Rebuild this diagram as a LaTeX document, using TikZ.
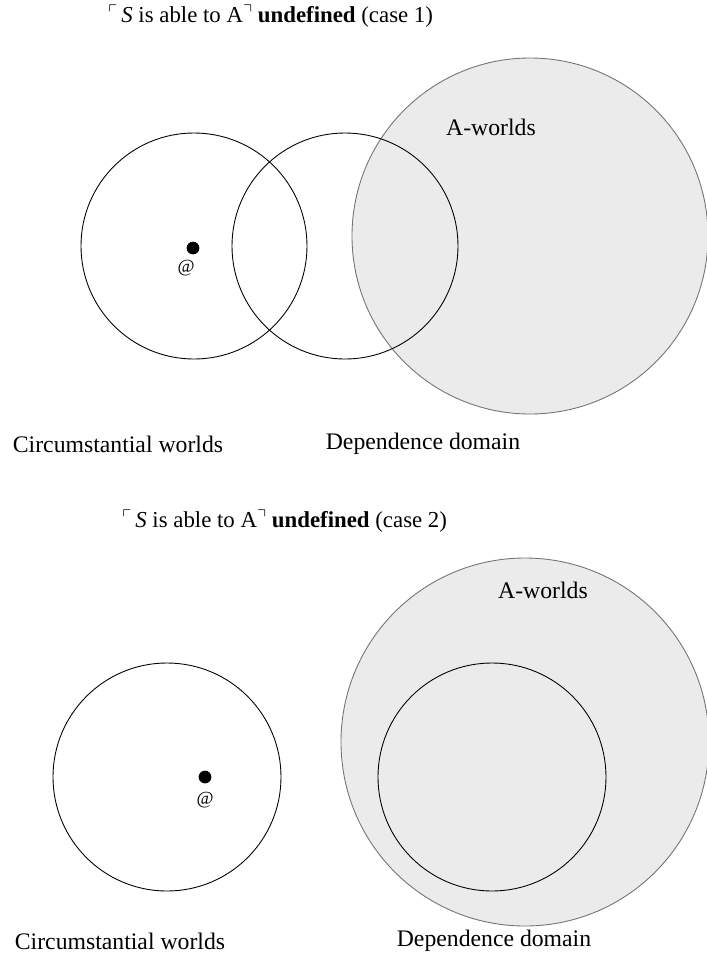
\documentclass[tikz,border=0pt]{standalone}
\usepackage{amsmath}
\usepackage{amssymb}
\usepackage{fontspec}
\setmainfont{Liberation Serif}
\definecolor{shadegray}{RGB}{235,235,235}

% small raised corner quotes
\newcommand{\cornL}{\raisebox{0.45ex}{\scalebox{0.8}{$\boldsymbol{\ulcorner}$}}}
\newcommand{\cornR}{\raisebox{0.45ex}{\scalebox{0.8}{$\boldsymbol{\urcorner}$}}}

\tikzset{
  world/.style={draw=black, line width=0.5pt},
  aworlds/.style={draw=black!55, fill=shadegray, line width=0.5pt},
  caption/.style={font=\fontsize{13.5}{16}\selectfont, inner sep=0pt},
  heading/.style={font=\fontsize{13}{15}\selectfont, inner sep=0pt, anchor=west},
  actual/.style={font=\fontsize{10.5}{12}\selectfont, inner sep=0pt},
}

\begin{document}
\begin{tikzpicture}[x=0.02cm, y=-0.02cm]
\useasboundingbox (0,0) rectangle (707,958);
\clip (0,0) rectangle (707,958);

% ---- case 1 ----
\node[heading] (titleA) at (108,16) {\cornL\,\textit{S} is able to A\cornR\ \textbf{undefined} (case 1)};

% A-worlds first, so the other rings lie on top
\filldraw[aworlds] (530,236) circle (178);
\draw[world] (194,246) circle (113);
\draw[world] (345,246) circle (113);

\filldraw[black] (193,248) circle (6) coordinate (atA);
\node[actual] (atlabelA) at (186,268) {@};
\node[caption] (aworldsA) at (491,127) {A-worlds};

\node[caption] (circA) at (118,444) {Circumstantial worlds};
\node[caption] (depA) at (423,444) {Dependence domain};

% ---- case 2 ----
\node[heading] (titleB) at (122,521) {\cornL\,\textit{S} is able to A\cornR\ \textbf{undefined} (case 2)};

\filldraw[aworlds] (525,742) circle (184);
\draw[world] (492,777) circle (114);
\draw[world] (167,777) circle (114);

\filldraw[black] (205,777) circle (6) coordinate (atB);
\node[actual] (atlabelB) at (205,800) {@};
\node[caption] (aworldsB) at (543,590) {A-worlds};

\node[caption] (circB) at (120,941) {Circumstantial worlds};
\node[caption] (depB) at (494,941) {Dependence domain};

\end{tikzpicture}
\end{document}
